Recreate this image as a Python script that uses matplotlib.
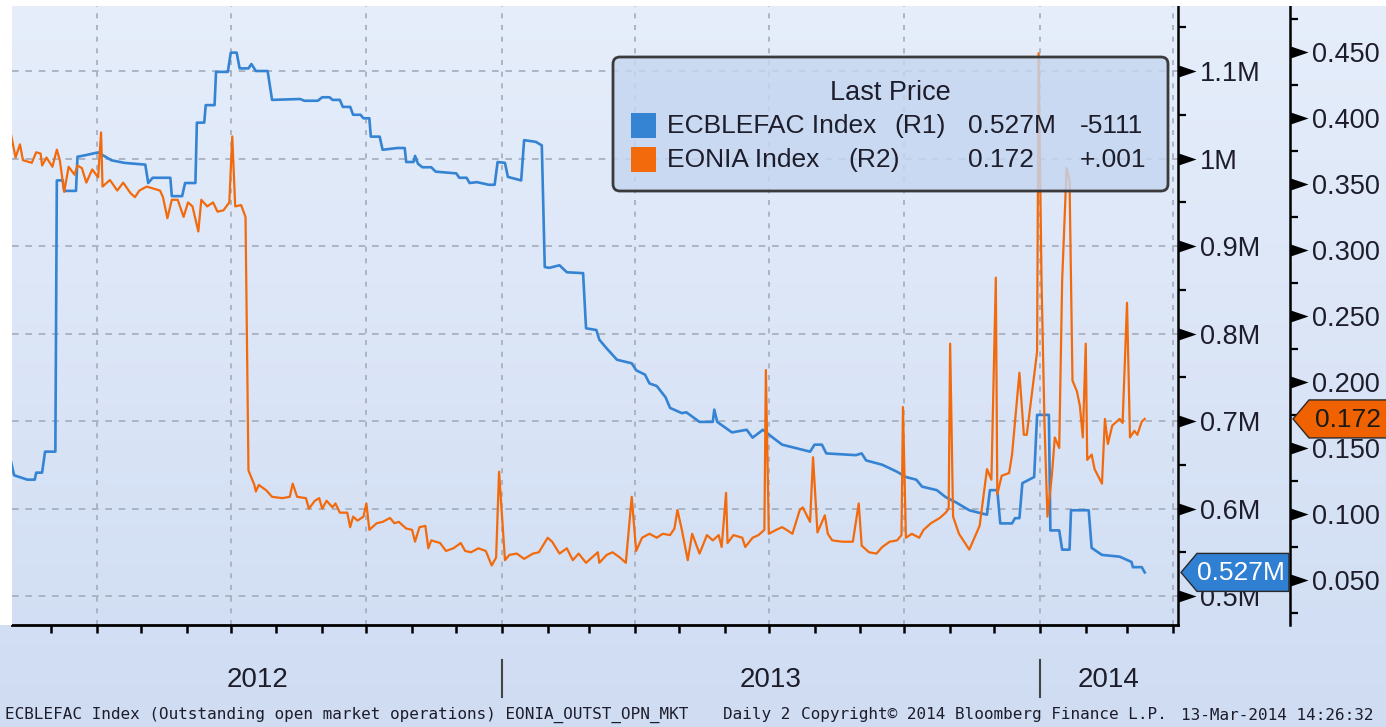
import numpy as np
import pandas as pd
import matplotlib
matplotlib.use('Agg')
import matplotlib.pyplot as plt
import matplotlib.dates as mdates
from matplotlib.patches import FancyBboxPatch, Polygon, Rectangle
from matplotlib.ticker import FixedLocator, FuncFormatter

# ── Data ─────────────────────────────────────────────────────────────────────

ecb_dates = [
    '2012-02-03', '2012-02-05', '2012-02-14', '2012-02-19', '2012-02-20', '2012-02-24',
    '2012-02-26', '2012-03-04', '2012-03-05', '2012-03-09', '2012-03-10', '2012-03-18',
    '2012-03-19', '2012-03-25', '2012-04-02', '2012-04-11', '2012-04-20', '2012-05-04',
    '2012-05-06', '2012-05-09', '2012-05-21', '2012-05-22', '2012-05-29', '2012-05-31',
    '2012-06-07', '2012-06-08', '2012-06-13', '2012-06-14', '2012-06-20', '2012-06-21',
    '2012-06-29', '2012-07-01', '2012-07-05', '2012-07-07', '2012-07-13', '2012-07-15',
    '2012-07-18', '2012-07-26', '2012-07-29', '2012-08-17', '2012-08-20', '2012-08-29',
    '2012-09-01', '2012-09-06', '2012-09-08', '2012-09-13', '2012-09-15', '2012-09-20',
    '2012-09-22', '2012-09-27', '2012-09-29', '2012-10-03', '2012-10-04', '2012-10-10',
    '2012-10-12', '2012-10-22', '2012-10-27', '2012-10-28', '2012-11-02', '2012-11-03',
    '2012-11-05', '2012-11-08', '2012-11-14', '2012-11-17', '2012-12-01', '2012-12-03',
    '2012-12-08', '2012-12-10', '2012-12-15', '2012-12-23', '2012-12-27', '2012-12-29',
    '2013-01-03', '2013-01-05', '2013-01-14', '2013-01-16', '2013-01-24', '2013-01-28',
    '2013-01-30', '2013-02-02', '2013-02-09', '2013-02-14', '2013-02-25', '2013-02-27',
    '2013-03-06', '2013-03-08', '2013-03-13', '2013-03-20', '2013-03-30', '2013-04-02',
    '2013-04-08', '2013-04-11', '2013-04-16', '2013-04-22', '2013-04-25', '2013-05-03',
    '2013-05-06', '2013-05-15', '2013-05-24', '2013-05-25', '2013-05-27', '2013-06-06',
    '2013-06-16', '2013-06-20', '2013-06-27', '2013-07-03', '2013-07-10', '2013-07-29',
    '2013-08-01', '2013-08-06', '2013-08-09', '2013-08-29', '2013-09-02', '2013-09-05',
    '2013-09-16', '2013-09-26', '2013-10-02', '2013-10-09', '2013-10-13', '2013-10-23',
    '2013-10-29', '2013-11-05', '2013-11-14', '2013-11-21', '2013-11-26', '2013-11-28',
    '2013-12-03', '2013-12-05', '2013-12-13', '2013-12-15', '2013-12-18', '2013-12-20',
    '2013-12-28', '2013-12-30', '2014-01-07', '2014-01-08', '2014-01-14', '2014-01-16',
    '2014-01-21', '2014-01-22', '2014-02-03', '2014-02-05', '2014-02-12', '2014-02-24',
    '2014-03-04', '2014-03-05', '2014-03-11', '2014-03-13',
]
ecb_values = [   # millions
    0.653, 0.638, 0.633, 0.633, 0.641, 0.641,
    0.665, 0.665, 0.975, 0.975, 0.963, 0.963,
    1.002, 1.004, 1.007, 0.998, 0.995, 0.993,
    0.972, 0.978, 0.978, 0.957, 0.957, 0.972,
    0.972, 1.041, 1.041, 1.061, 1.061, 1.099,
    1.099, 1.121, 1.121, 1.103, 1.103, 1.108,
    1.100, 1.100, 1.067, 1.068, 1.066, 1.066,
    1.070, 1.070, 1.067, 1.067, 1.059, 1.059,
    1.050, 1.050, 1.046, 1.046, 1.025, 1.025,
    1.010, 1.012, 1.012, 0.996, 0.996, 1.003,
    0.994, 0.990, 0.990, 0.985, 0.983, 0.978,
    0.978, 0.972, 0.973, 0.970, 0.970, 0.996,
    0.995, 0.979, 0.975, 1.021, 1.019, 1.015,
    0.876, 0.875, 0.878, 0.870, 0.869, 0.806,
    0.804, 0.793, 0.783, 0.770, 0.766, 0.758,
    0.753, 0.743, 0.740, 0.727, 0.715, 0.709,
    0.710, 0.699, 0.699, 0.713, 0.699, 0.687,
    0.690, 0.681, 0.690, 0.682, 0.673, 0.665,
    0.673, 0.673, 0.663, 0.661, 0.663, 0.655,
    0.650, 0.642, 0.636, 0.633, 0.625, 0.621,
    0.613, 0.607, 0.598, 0.595, 0.593, 0.621,
    0.621, 0.583, 0.583, 0.589, 0.589, 0.629,
    0.636, 0.707, 0.707, 0.575, 0.575, 0.553,
    0.553, 0.598, 0.598, 0.555, 0.547, 0.545,
    0.539, 0.533, 0.533, 0.527,
]

eonia_dates = [
    '2012-02-03', '2012-02-06', '2012-02-09', '2012-02-11', '2012-02-17', '2012-02-20',
    '2012-02-23', '2012-02-24', '2012-02-27', '2012-03-02', '2012-03-05', '2012-03-07',
    '2012-03-10', '2012-03-13', '2012-03-17', '2012-03-19', '2012-03-22', '2012-03-25',
    '2012-03-29', '2012-04-02', '2012-04-04', '2012-04-05', '2012-04-10', '2012-04-15',
    '2012-04-19', '2012-04-24', '2012-04-27', '2012-04-30', '2012-05-05', '2012-05-14',
    '2012-05-16', '2012-05-19', '2012-05-22', '2012-05-26', '2012-05-30', '2012-06-02',
    '2012-06-05', '2012-06-09', '2012-06-11', '2012-06-15', '2012-06-19', '2012-06-22',
    '2012-06-26', '2012-06-30', '2012-07-02', '2012-07-04', '2012-07-08', '2012-07-11',
    '2012-07-13', '2012-07-17', '2012-07-18', '2012-07-20', '2012-07-25', '2012-07-29',
    '2012-08-05', '2012-08-10', '2012-08-12', '2012-08-15', '2012-08-21', '2012-08-23',
    '2012-08-27', '2012-08-30', '2012-09-01', '2012-09-04', '2012-09-08', '2012-09-10',
    '2012-09-13', '2012-09-18', '2012-09-20', '2012-09-22', '2012-09-25', '2012-09-29',
    '2012-10-01', '2012-10-03', '2012-10-08', '2012-10-12', '2012-10-17', '2012-10-20',
    '2012-10-23', '2012-10-28', '2012-11-01', '2012-11-03', '2012-11-06', '2012-11-10',
    '2012-11-12', '2012-11-14', '2012-11-20', '2012-11-24', '2012-11-29', '2012-12-04',
    '2012-12-07', '2012-12-11', '2012-12-16', '2012-12-21', '2012-12-25', '2012-12-28',
    '2012-12-30', '2013-01-03', '2013-01-06', '2013-01-11', '2013-01-16', '2013-01-22',
    '2013-01-26', '2013-02-01', '2013-02-04', '2013-02-09', '2013-02-14', '2013-02-18',
    '2013-02-22', '2013-02-27', '2013-03-01', '2013-03-07', '2013-03-08', '2013-03-13',
    '2013-03-17', '2013-03-22', '2013-03-26', '2013-03-30', '2013-04-02', '2013-04-06',
    '2013-04-11', '2013-04-16', '2013-04-20', '2013-04-25', '2013-04-28', '2013-04-30',
    '2013-05-03', '2013-05-07', '2013-05-10', '2013-05-15', '2013-05-20', '2013-05-24',
    '2013-05-28', '2013-05-30', '2013-06-02', '2013-06-03', '2013-06-07', '2013-06-13',
    '2013-06-15', '2013-06-20', '2013-06-24', '2013-06-28', '2013-06-29', '2013-07-01',
    '2013-07-06', '2013-07-10', '2013-07-13', '2013-07-17', '2013-07-22', '2013-07-24',
    '2013-07-29', '2013-07-31', '2013-08-03', '2013-08-08', '2013-08-10', '2013-08-13',
    '2013-08-20', '2013-08-27', '2013-08-31', '2013-09-02', '2013-09-07', '2013-09-12',
    '2013-09-16', '2013-09-21', '2013-09-26', '2013-09-29', '2013-09-30', '2013-10-02',
    '2013-10-06', '2013-10-11', '2013-10-14', '2013-10-19', '2013-10-25', '2013-10-29',
    '2013-10-31', '2013-11-01', '2013-11-03', '2013-11-07', '2013-11-14', '2013-11-21',
    '2013-11-26', '2013-11-29', '2013-12-02', '2013-12-03', '2013-12-06', '2013-12-11',
    '2013-12-13', '2013-12-18', '2013-12-21', '2013-12-23', '2013-12-27', '2013-12-30',
    '2013-12-31', '2014-01-02', '2014-01-04', '2014-01-06', '2014-01-09', '2014-01-11',
    '2014-01-14', '2014-01-16', '2014-01-19', '2014-01-21', '2014-01-23', '2014-01-26',
    '2014-01-28', '2014-01-30', '2014-02-01', '2014-02-02', '2014-02-05', '2014-02-07',
    '2014-02-12', '2014-02-14', '2014-02-16', '2014-02-19', '2014-02-24', '2014-02-26',
    '2014-03-01', '2014-03-03', '2014-03-06', '2014-03-08', '2014-03-11', '2014-03-13',
]
eonia_values = [
    0.387, 0.370, 0.380, 0.368, 0.366, 0.374,
    0.373, 0.364, 0.370, 0.363, 0.376, 0.368,
    0.344, 0.363, 0.357, 0.364, 0.362, 0.351,
    0.361, 0.355, 0.389, 0.348, 0.353, 0.345,
    0.351, 0.343, 0.340, 0.345, 0.348, 0.345,
    0.340, 0.324, 0.338, 0.338, 0.325, 0.336,
    0.333, 0.314, 0.338, 0.333, 0.336, 0.329,
    0.330, 0.336, 0.386, 0.333, 0.334, 0.325,
    0.133, 0.122, 0.117, 0.122, 0.118, 0.113,
    0.112, 0.113, 0.123, 0.113, 0.112, 0.104,
    0.110, 0.112, 0.104, 0.110, 0.105, 0.108,
    0.101, 0.101, 0.090, 0.098, 0.095, 0.098,
    0.108, 0.088, 0.093, 0.094, 0.097, 0.093,
    0.094, 0.089, 0.088, 0.079, 0.090, 0.091,
    0.074, 0.080, 0.078, 0.072, 0.074, 0.078,
    0.072, 0.071, 0.074, 0.072, 0.061, 0.067,
    0.132, 0.065, 0.069, 0.070, 0.066, 0.070,
    0.071, 0.082, 0.079, 0.070, 0.074, 0.065,
    0.070, 0.063, 0.065, 0.071, 0.063, 0.069,
    0.071, 0.067, 0.063, 0.113, 0.072, 0.082,
    0.085, 0.082, 0.085, 0.084, 0.089, 0.103,
    0.088, 0.065, 0.085, 0.070, 0.084, 0.080,
    0.084, 0.075, 0.116, 0.078, 0.084, 0.082,
    0.075, 0.082, 0.084, 0.088, 0.209, 0.085,
    0.088, 0.090, 0.088, 0.085, 0.103, 0.105,
    0.094, 0.143, 0.086, 0.099, 0.085, 0.080,
    0.079, 0.079, 0.108, 0.076, 0.071, 0.070,
    0.075, 0.079, 0.080, 0.084, 0.181, 0.082,
    0.085, 0.082, 0.088, 0.093, 0.097, 0.101,
    0.104, 0.229, 0.098, 0.085, 0.073, 0.091,
    0.134, 0.126, 0.279, 0.115, 0.129, 0.131,
    0.145, 0.207, 0.160, 0.160, 0.196, 0.223,
    0.449, 0.277, 0.169, 0.098, 0.129, 0.158,
    0.150, 0.277, 0.362, 0.353, 0.201, 0.193,
    0.182, 0.158, 0.229, 0.141, 0.145, 0.134,
    0.123, 0.172, 0.153, 0.167, 0.172, 0.169,
    0.260, 0.158, 0.163, 0.160, 0.170, 0.172,
]

r1_ticks = [0.5, 0.6, 0.7, 0.8, 0.9, 1.0, 1.1]
r2_ticks = [0.05, 0.10, 0.15, 0.20, 0.25, 0.30, 0.35, 0.40, 0.45]
years = ['2012', '2013', '2014']
legend_rows = [
    ('ECBLEFAC Index', '(R1)', '0.527M', '-5111'),
    ('EONIA Index', '(R2)', '0.172', '+.001'),
]
last_r1 = 0.527
last_r2 = 0.172
footer = [
    'ECBLEFAC Index (Outstanding open market operations) EONIA_OUTST_OPN_MKT',
    'Daily 2',
    'Copyright\u00a9 2014 Bloomberg Finance L.P.',
    '13-Mar-2014 14:26:32',
]

# ── Style ────────────────────────────────────────────────────────────────────

W, H = 1386, 727
BLUE = '#3583d3'
ORANGE = '#f26a0c'
GRID = '#a4acba'
TEXT = '#1d1d2b'
FONT = ['Liberation Sans', 'DejaVu Sans']

plt.rcParams['font.family'] = FONT


def tri_marker():
    # right-pointing triangle whose base sits on the spine
    return [(0, -0.34), (1, 0), (0, 0.34), (0, -0.34)]


def px_y(ax, value):
    # pixel row (from the top) of a data value on this axes
    return H - ax.transData.transform((0, value))[1]


def draw_tag(ov, x0, x1, yc, color, text, tcolor):
    hh, tip = 19, 16
    pts = [(x0, yc), (x0 + tip, yc - hh), (x1, yc - hh), (x1, yc + hh), (x0 + tip, yc + hh)]
    ov.add_patch(Polygon(pts, closed=True, fc=color, ec='#2a2a2a', lw=1.0))
    ov.text((x0 + tip + x1) / 2 - 2, yc + 1, text, color=tcolor, fontsize=19,
            ha='center', va='center')


# ── Figure ───────────────────────────────────────────────────────────────────

fig = plt.figure(figsize=(W / 100, H / 100), dpi=100)

bg = fig.add_axes([0, 0, 1, 1], zorder=-10)
grad = np.linspace(0, 1, 256).reshape(-1, 1)
top_c = np.array([0xe6, 0xee, 0xfb]) / 255
bot_c = np.array([0xcf, 0xdc, 0xf2]) / 255
img = top_c[None, None, :] * (1 - grad[:, :, None]) + bot_c[None, None, :] * grad[:, :, None]
bg.imshow(img, extent=[0, 1, 0, 1], aspect='auto', origin='upper')
bg.axis('off')

L, R, T, B = 12, 1178, 6, 625
ax1 = fig.add_axes([L / W, (H - B) / H, (R - L) / W, (B - T) / H])
ax1.patch.set_visible(False)

x_ecb = pd.to_datetime(ecb_dates)
x_eon = pd.to_datetime(eonia_dates)

xmin = pd.Timestamp('2012-02-03 14:00')
xmax = pd.Timestamp('2014-04-04 14:00')

# gridlines
quarters = pd.date_range('2012-04-01', '2014-04-01', freq='QS')
for q in quarters:
    ax1.axvline(q, color=GRID, lw=1.2, ls=(0, (3, 4)), zorder=1)
for t in r1_ticks:
    ax1.axhline(t, color=GRID, lw=1.2, ls=(0, (4, 4)), zorder=1)

ax1.plot(x_ecb, ecb_values, color=BLUE, lw=1.9, zorder=3, solid_joinstyle='round')
ax1.set_xlim(xmin, xmax)
ax1.set_ylim(0.4669, 1.1743)

ax2 = ax1.twinx()
ax2.plot(x_eon, eonia_values, color=ORANGE, lw=1.6, zorder=3, solid_joinstyle='round')
ax2.set_ylim(0.0159, 0.4848)
ax2.set_xlim(xmin, xmax)

# spines
for s in ['top', 'left']:
    ax1.spines[s].set_visible(False)
ax1.spines['right'].set_linewidth(1.8)
ax1.spines['bottom'].set_linewidth(2.0)
for s in ['top', 'left', 'bottom']:
    ax2.spines[s].set_visible(False)
r2_pos = (1290 - L) / (R - L)
ax2.spines['right'].set_position(('axes', r2_pos))
ax2.spines['right'].set_linewidth(1.8)

# x axis: monthly ticks, year labels underneath
ax1.xaxis.set_major_locator(mdates.MonthLocator())
ax1.tick_params(axis='x', length=6, width=1.8, direction='out', labelbottom=False, color='black')

# right axes
ax1.yaxis.tick_right()
ax1.yaxis.set_major_locator(FixedLocator(r1_ticks))
ax1.yaxis.set_minor_locator(FixedLocator([0.55, 0.65, 0.75, 0.85, 0.95, 1.05, 1.15]))
ax1.yaxis.set_major_formatter(FuncFormatter(lambda v, p: f'{v:g}M'))
ax1.tick_params(axis='y', which='major', length=0, pad=15.5, labelsize=19.5, labelcolor=TEXT)
ax1.tick_params(axis='y', which='minor', length=6, width=1.6, direction='out', color='black')

ax2.yaxis.set_major_locator(FixedLocator(r2_ticks))
ax2.yaxis.set_minor_locator(FixedLocator(np.arange(0.025, 0.48, 0.05)))
ax2.yaxis.set_major_formatter(FuncFormatter(lambda v, p: f'{v:.3f}'))
ax2.tick_params(axis='y', which='major', length=0, pad=15.5, labelsize=19.5, labelcolor=TEXT)
ax2.tick_params(axis='y', which='minor', length=6, width=1.6, direction='out', color='black')

# triangle major ticks
ax1.plot(np.ones(len(r1_ticks)), r1_ticks, transform=ax1.get_yaxis_transform(),
         ls='none', marker=tri_marker(), ms=26, mew=0, color='black', clip_on=False, zorder=5)
ax2.plot(np.full(len(r2_ticks), r2_pos), r2_ticks, transform=ax2.get_yaxis_transform(),
         ls='none', marker=tri_marker(), ms=26, mew=0, color='black', clip_on=False, zorder=5)

# year labels and separators
bounds = [xmin, pd.Timestamp('2013-01-01'), pd.Timestamp('2014-01-01'), xmax]
xtr = ax1.get_xaxis_transform()
for i, yr in enumerate(years):
    mid = bounds[i] + (bounds[i + 1] - bounds[i]) / 2
    ax1.text(mid, -0.089, yr, transform=xtr, ha='center', va='center',
             fontsize=20, color=TEXT, clip_on=False)
for b in bounds[1:3]:
    ax1.plot([b, b], [-0.0565, -0.1163], transform=xtr, color='#444444', lw=1.5, clip_on=False)

# ── Overlay: legend, value tags, footer ─────────────────────────────────────

ov = fig.add_axes([0, 0, 1, 1], zorder=10)
ov.set_xlim(0, W)
ov.set_ylim(H, 0)
ov.axis('off')
ov.patch.set_visible(False)

ov.add_patch(Rectangle((0, 0), W, T, fc='white', ec='none'))
ov.add_patch(Rectangle((0, 0), L - 0.5, B, fc='white', ec='none'))

ov.add_patch(FancyBboxPatch((613, 57), 555, 134, boxstyle='round,pad=0,rounding_size=7',
                            fc=(0.77, 0.84, 0.94, 0.82), ec='#3b3b3b', lw=2))
ov.text(890, 93, 'Last Price', ha='center', va='center', fontsize=19.5, color=TEXT)
sq_colors = [BLUE, ORANGE]
row_y = [126, 160]
name_x = 667
tag_x = [894, 848]
for i, (name, ax_tag, val, chg) in enumerate(legend_rows):
    y = row_y[i]
    ov.add_patch(Rectangle((631, y - 13), 25, 25, fc=sq_colors[i], ec='none'))
    ov.text(name_x, y, name, ha='left', va='center', fontsize=19, color=TEXT)
    ov.text(tag_x[i], y, ax_tag, ha='left', va='center', fontsize=19, color=TEXT)
    ov.text(968, y, val, ha='left', va='center', fontsize=19, color=TEXT)
    ov.text(1080, y, chg, ha='left', va='center', fontsize=19, color=TEXT)

draw_tag(ov, 1181, 1289, px_y(ax1, last_r1), '#2f7fd3', '0.527M', 'white')
draw_tag(ov, 1293, W + 4, px_y(ax2, last_r2), '#f06200', '0.172', '#1a1a1a')

foot_x = [5, 723, 801, 1181]
for x, s in zip(foot_x, footer):
    ov.text(x, 715, s, ha='left', va='center', fontsize=11.5, color=TEXT,
            family=['DejaVu Sans Mono'])

fig.savefig('out.png', dpi=100)
